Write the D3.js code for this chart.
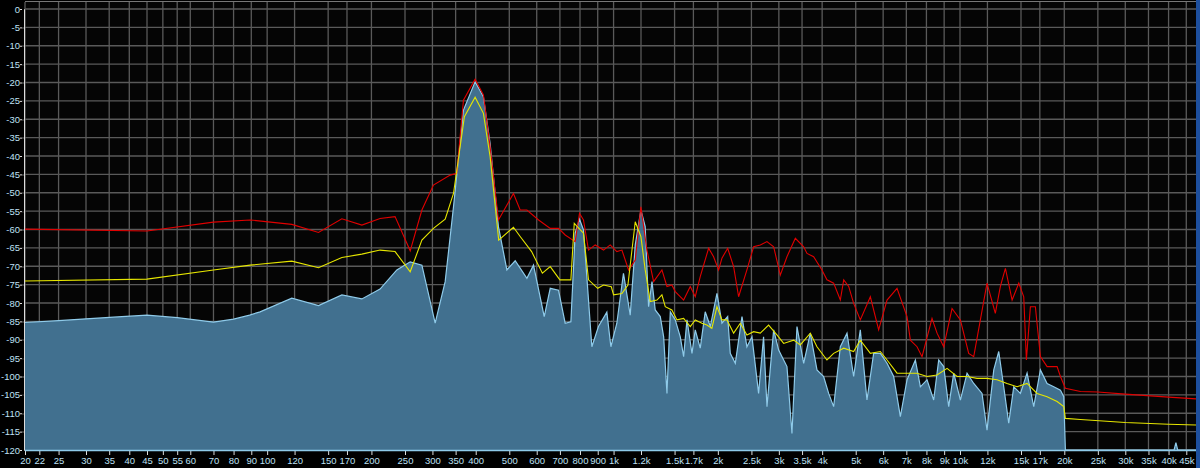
<!DOCTYPE html>
<html><head><meta charset="utf-8">
<script src="https://cdn.jsdelivr.net/npm/d3@7"></script>
<style>html,body{margin:0;background:#000;overflow:hidden}</style>
</head><body><svg id="c" width="1200" height="468"></svg>
<script>
const freqTicks=[20,22,25,30,35,40,45,50,55,60,70,80,90,100,120,150,170,200,250,300,350,400,500,600,700,800,900,1000,1200,1500,1700,2000,2500,3000,3500,4000,5000,6000,7000,8000,9000,10000,12000,15000,17000,20000,25000,30000,35000,40000,45000];
const dbTicks=d3.range(0,-121,-5);
const blueF=[20,25,30,37,45,55,70,80,89,95.4,117.8,140.7,164.3,187.7,211.8,236.8,258.8,279.7,305.5,326.5,345.1,368.7,398.4,421,440.2,465.2,492.1,520.1,562.1,587.3,630.7,656.4,693.5,725,752.9,774.7,797.3,818.7,865.6,904.5,956.3,982.3,1022,1068,1117,1155,1199,1234,1262,1291,1319,1364,1395,1426,1458,1507,1558,1593,1629,1684,1721,1779,1839,1902,1988,2055,2135,2172,2246,2348,2426,2509,2622,2710,2772,2898,2996,3166,3273,3384,3538,3698,3865,4040,4177,4318,4514,4719,4932,5155,5388,5633,5889,6157,6435,6727,7032,7433,7684,8032,8395,8680,8974,9277,9592,10026,10480,10955,11577,11967,12516,12938,13373,13826,14295,14940,15618,16325,17066,17841,18650,19494,19929,20147,40000,41500,42000,42500,48000];
const blueDb=[-85.3,-84.8,-84.3,-83.8,-83.3,-84,-85.2,-84.4,-83.3,-82.4,-78.7,-80.7,-77.8,-78.9,-76.2,-71,-68.8,-69.7,-85.5,-74.2,-53.8,-27.5,-19.8,-23.9,-36.6,-59.2,-71,-68.5,-73.3,-69.7,-83.7,-76,-76.5,-85.5,-85.1,-61,-57.2,-60.1,-91.9,-86.4,-82.5,-91.9,-85.5,-71.9,-83.3,-64.2,-54.7,-59.2,-81,-74.2,-81.9,-83.7,-89.2,-104.6,-82.4,-84.6,-89.2,-94.6,-84.6,-93.7,-87.3,-92.3,-82.4,-86.4,-77.4,-85.5,-83.7,-93.7,-96.4,-83.7,-91.9,-89.2,-104.6,-89.2,-108.2,-87.3,-92.8,-97.3,-115.5,-86.4,-96.4,-88.2,-98.2,-100,-104.6,-108.2,-91.9,-88.2,-100,-87.3,-106.4,-93.7,-93.7,-96.4,-100,-110.9,-100.9,-95.5,-102.8,-100.9,-106.4,-95.5,-97.3,-108.2,-99.1,-106.4,-99.1,-101.9,-104.6,-114.6,-98.2,-93.2,-102.8,-112.7,-102.8,-104.6,-99.1,-108.2,-98.2,-101.9,-102.8,-103.7,-105.5,-120,-120,-120,-118,-120,-120];
const redF=[20,45,70,89.3,117.8,140.7,164.3,187.7,211.8,234,258.8,279.7,302,337.6,352.7,368.7,398.4,421,440.2,465.2,514,537.5,562.1,607.6,656.4,693.5,725,774.7,797.3,818.7,846.6,885,935.5,978,1022,1057,1105,1155,1199,1248,1305,1379,1426,1473,1507,1593,1665,1721,1779,1881,1944,2010,2055,2135,2221,2296,2426,2537,2652,2772,2898,3029,3166,3347,3538,3617,3780,3995,4130,4318,4514,4617,4772,4932,5155,5511,5824,6157,6580,7032,7190,7516,7770,8303,8585,8974,9484,10026,10596,10955,11450,11967,12647,13077,13523,14140,14781,15276,15547,15966,16503,17066,17841,19067,19494,20147,22262,25000,30000,40000,48000];
const redDb=[-59.9,-60.4,-58,-57.4,-58.6,-60.8,-57.1,-58.8,-57,-56.5,-65.8,-54.7,-47.9,-45.2,-44.7,-24.8,-19.1,-23.4,-37.5,-57.4,-50.2,-54.7,-54.7,-57.4,-59.7,-59.7,-61.5,-63.3,-55.6,-57.4,-65.6,-64.2,-65.6,-64.2,-66,-65.6,-71,-68.3,-53.8,-65.6,-74.2,-71,-75.5,-75.1,-76.9,-79.2,-75.5,-78.3,-72.8,-65.1,-67.4,-71,-67.8,-65.1,-70.1,-78.3,-71,-64.7,-64.2,-63.3,-64.7,-72.4,-67.4,-62.4,-64.7,-66.5,-67.4,-71,-73.7,-74.6,-79.2,-73.7,-75.5,-80.1,-84.6,-78.3,-87.3,-79.2,-76,-83.7,-90.1,-91.9,-94.6,-84.2,-88.2,-91.9,-81.5,-84.6,-93.7,-94.6,-84.6,-74.6,-82.8,-75.5,-70.6,-79.2,-74.6,-78.3,-95.5,-81,-81,-94.6,-97.3,-97.3,-100,-103.2,-104.1,-104.2,-104.8,-105.6,-106.1];
const yelF=[20,45,70,89.3,117.8,140.7,164.3,187.7,211.8,234,258.8,279.7,302,326.5,345.1,371,398.4,421,440.2,466,514,537.5,580,623,656.4,700,752.9,770,818.7,846.6,900,935.5,985,1000,1057,1100,1155,1199,1234,1276,1334,1379,1410,1473,1524,1593,1665,1721,1799,1860,1922,1988,2055,2125,2221,2322,2426,2537,2652,2802,2962,3097,3310,3459,3698,3865,4130,4318,4617,4932,5155,5511,5889,6157,6580,7032,7516,8032,8585,9176,9805,10480,11200,11967,12790,13672,14614,15618,16692,17841,19067,19929,20147,22262,30000,40000,48000];
const yelDb=[-74,-73.5,-71,-69.7,-68.6,-70.4,-67.6,-66.7,-65.6,-66,-71.5,-62.9,-59.7,-57.2,-50.2,-29.3,-24,-28.4,-40.2,-62.9,-59.4,-61.9,-66,-71.9,-70.1,-73.7,-73.7,-58.3,-61,-73.7,-76,-75.1,-75.6,-77.8,-77.4,-75.1,-57.9,-61.9,-71,-79.6,-79.2,-77.8,-81,-81.9,-84.6,-84.2,-86.4,-84.6,-85.5,-86,-86.9,-81,-84.6,-84.6,-88.2,-85.5,-88.7,-87.8,-88.2,-86,-88.7,-91,-90.1,-91.4,-88.2,-91.9,-95.5,-93.7,-92.3,-93.2,-90.1,-93.7,-93.2,-95.5,-99.1,-99.1,-99.1,-100,-99.6,-97.8,-100,-100,-100.5,-100.5,-100.9,-101.9,-102.8,-101.9,-104.6,-105.5,-106.8,-108.2,-111.4,-111.7,-112.5,-113,-113.2];

const svg=d3.select('#c');
const L=25,R=1196,T=9,B=450;
const x=d3.scaleLog().domain([20,48000]).range([L,R]);
const y=d3.scaleLinear().domain([-120,0]).range([B,T]);
svg.append('rect').attr('x',L).attr('y',1).attr('width',R-L).attr('height',B-1).attr('fill','#050505');
svg.append('line').attr('x1',L).attr('x2',R).attr('y1',1.5).attr('y2',1.5).attr('stroke','#777');
const g=svg.append('g');
g.selectAll('.vg').data(freqTicks).join('line').attr('x1',d=>x(d)).attr('x2',d=>x(d)).attr('y1',2).attr('y2',B).attr('stroke','#5a5a5a').attr('stroke-width',1.3);
g.selectAll('.hg').data(dbTicks).join('line').attr('x1',L).attr('x2',R).attr('y1',d=>y(d)).attr('y2',d=>y(d)).attr('stroke','#5a5a5a').attr('stroke-width',1.3);
const pts=(F,D)=>F.map((f,i)=>[f,D[i]]);
const area=d3.area().x(d=>x(d[0])).y0(B).y1(d=>y(d[1]));
const line=d3.line().x(d=>x(d[0])).y(d=>y(d[1]));
const bp=pts(blueF,blueDb);
svg.append('path').attr('d',area(bp)).attr('fill','#41708f');
svg.append('path').attr('d',line(bp)).attr('fill','none').attr('stroke','#8fcbea').attr('stroke-width',1.2);
svg.append('path').attr('d',line(pts(redF,redDb))).attr('fill','none').attr('stroke','#e00000').attr('stroke-width',1.1);
svg.append('path').attr('d',line(pts(yelF,yelDb))).attr('fill','none').attr('stroke','#e6e600').attr('stroke-width',1.1);
const ya=d3.axisLeft(y).tickValues(dbTicks).tickSize(4).tickFormat(d=>d);
const yg=svg.append('g').attr('transform',`translate(${L-1},0)`).call(ya);
const ym=d3.axisLeft(y).tickValues(d3.range(0,-121,-1)).tickSize(2).tickFormat('');
svg.append('g').attr('transform',`translate(${L-1},0)`).call(ym).select('.domain').remove();
const xa=d3.axisBottom(x).tickValues(freqTicks).tickSize(5).tickFormat(d=>d>=1000?(d/1000)+'k':d);
const xg=svg.append('g').attr('transform',`translate(0,${B})`).call(xa);
[yg,xg].forEach(a=>{a.selectAll('path,line').attr('stroke','#ddd');a.selectAll('text').attr('fill','#bfe0f5').style('font-family','"Liberation Sans Narrow","Liberation Sans",sans-serif').style('font-size','9.5px');});
yg.selectAll('text').attr('x',-4);
xg.selectAll('text').attr('y',7);
svg.append('line').attr('x1',L).attr('x2',R).attr('y1',B+0.5).attr('y2',B+0.5).attr('stroke','#8fcbea').attr('stroke-width',1.5);
svg.append('rect').attr('x',1196).attr('y',0).attr('width',4).attr('height',468).attr('fill','#1d4f9e');
</script></body></html>
